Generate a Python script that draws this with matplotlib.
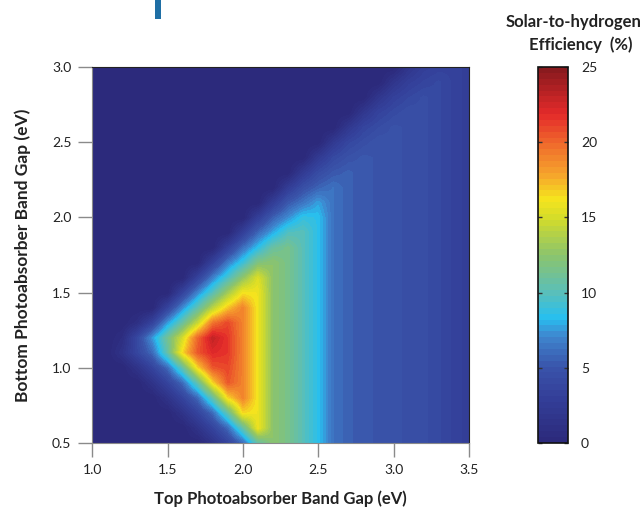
import numpy as np
import matplotlib
matplotlib.use('Agg')
import matplotlib.pyplot as plt
from matplotlib.colors import LinearSegmentedColormap
from matplotlib.patches import Rectangle

# grid of band gaps (eV)
top_gap = np.linspace(1.0, 3.5, 26)
bottom_gap = np.linspace(0.5, 3.0, 26)

# STH efficiency (%), one row per bottom gap (0.5 -> 3.0),
# columns are top gap 1.0 -> 3.5
eff_rows = [
    [0, 0, 0, 0, 0, 0, 0, 0, 1.5, 3.5, 6.0, 10.5, 12.5, 11.5, 10, 8.5, 6.3, 5.6, 5.2, 5.0, 4.8, 4.6, 4.4, 4.0, 3.4, 2.9],
    [0, 0, 0, 0, 0, 0, 0, 1.5, 3.5, 6.0, 10.5, 16, 12.5, 11.5, 10, 8.5, 6.3, 5.6, 5.2, 5.0, 4.8, 4.6, 4.4, 4.0, 3.4, 2.9],
    [0, 0, 0, 0, 0, 0, 1.5, 3.5, 6.0, 10.5, 16.5, 16, 12.5, 11.5, 10, 8.5, 6.3, 5.6, 5.2, 5.0, 4.8, 4.6, 4.4, 4.0, 3.4, 2.9],
    [0, 0, 0, 0, 0, 1.5, 3.5, 6.0, 10.5, 16.5, 19, 16, 12.5, 11.5, 10, 8.5, 6.3, 5.6, 5.2, 5.0, 4.8, 4.6, 4.4, 4.0, 3.4, 2.9],
    [0, 0, 0, 0, 1.5, 3.5, 6.0, 10.5, 16.5, 20.5, 19, 16, 12.5, 11.5, 10, 8.5, 6.3, 5.6, 5.2, 5.0, 4.8, 4.6, 4.4, 4.0, 3.4, 2.9],
    [0, 0, 0, 1.5, 3.5, 6.0, 10.5, 16.5, 20.5, 21, 19, 16, 12.5, 11.5, 10, 8.5, 6.3, 5.6, 5.2, 5.0, 4.8, 4.6, 4.4, 4.0, 3.4, 2.9],
    [0, 0, 1.5, 3.8, 6.0, 10.5, 16.5, 20.5, 22, 21.5, 19, 16, 12.5, 11.5, 10, 8.5, 6.3, 5.6, 5.2, 5.0, 4.8, 4.6, 4.4, 4.0, 3.4, 2.9],
    [0, 0, 0.8, 4.0, 7.5, 11.2, 15, 20, 23, 21.5, 19, 16, 12.5, 11.5, 10, 8.5, 6.3, 5.6, 5.2, 5.0, 4.8, 4.6, 4.4, 4.0, 3.4, 2.9],
    [0, 0, 0, 1.0, 3.5, 7.5, 10.8, 14.5, 19.5, 21, 19, 16, 12.5, 11.5, 10, 8.5, 6.3, 5.6, 5.2, 5.0, 4.8, 4.6, 4.4, 4.0, 3.4, 2.9],
    [0, 0, 0, 0, 0, 3.5, 7.2, 10.4, 14, 17, 19, 16, 12.5, 11.5, 10, 8.5, 6.3, 5.6, 5.2, 5.0, 4.8, 4.6, 4.4, 4.0, 3.4, 2.9],
    [0, 0, 0, 0, 0, 0, 3.5, 7.0, 10, 13.3, 16.2, 16, 12.5, 11.5, 10, 8.5, 6.3, 5.6, 5.2, 5.0, 4.8, 4.6, 4.4, 4.0, 3.4, 2.9],
    [0, 0, 0, 0, 0, 0, 0, 3.4, 6.8, 9.6, 12.6, 15.3, 12.5, 11.5, 10, 8.5, 6.3, 5.6, 5.2, 5.0, 4.8, 4.6, 4.4, 4.0, 3.4, 2.9],
    [0, 0, 0, 0, 0, 0, 0, 0, 3.3, 6.6, 9.0, 11.9, 12.5, 11.5, 10, 8.5, 6.3, 5.6, 5.2, 5.0, 4.8, 4.6, 4.4, 4.0, 3.4, 2.9],
    [0, 0, 0, 0, 0, 0, 0, 0, 0, 3.2, 6.2, 8.5, 10.8, 11.5, 10, 8.5, 6.3, 5.6, 5.2, 5.0, 4.8, 4.6, 4.4, 4.0, 3.4, 2.9],
    [0, 0, 0, 0, 0, 0, 0, 0, 0, 0, 3.1, 5.9, 7.9, 9.8, 10, 8.5, 6.3, 5.6, 5.2, 5.0, 4.8, 4.6, 4.4, 4.0, 3.4, 2.9],
    [0, 0, 0, 0, 0, 0, 0, 0, 0, 0, 0, 3.0, 5.6, 7.2, 8.8, 8.5, 6.3, 5.6, 5.2, 5.0, 4.8, 4.6, 4.4, 4.0, 3.4, 2.9],
    [0, 0, 0, 0, 0, 0, 0, 0, 0, 0, 0, 0, 2.8, 5.2, 6.4, 7.7, 6.3, 5.6, 5.2, 5.0, 4.8, 4.6, 4.4, 4.0, 3.4, 2.9],
    [0, 0, 0, 0, 0, 0, 0, 0, 0, 0, 0, 0, 0, 2.7, 4.6, 5.7, 6.3, 5.6, 5.2, 5.0, 4.8, 4.6, 4.4, 4.0, 3.4, 2.9],
    [0, 0, 0, 0, 0, 0, 0, 0, 0, 0, 0, 0, 0, 0, 2.5, 4.2, 5.2, 5.6, 5.2, 5.0, 4.8, 4.6, 4.4, 4.0, 3.4, 2.9],
    [0, 0, 0, 0, 0, 0, 0, 0, 0, 0, 0, 0, 0, 0, 0, 2.4, 4.0, 4.8, 5.2, 5.0, 4.8, 4.6, 4.4, 4.0, 3.4, 2.9],
    [0, 0, 0, 0, 0, 0, 0, 0, 0, 0, 0, 0, 0, 0, 0, 0, 2.3, 3.8, 4.5, 5.0, 4.8, 4.6, 4.4, 4.0, 3.4, 2.9],
    [0, 0, 0, 0, 0, 0, 0, 0, 0, 0, 0, 0, 0, 0, 0, 0, 0, 2.1, 3.6, 4.3, 4.8, 4.6, 4.4, 4.0, 3.4, 2.9],
    [0, 0, 0, 0, 0, 0, 0, 0, 0, 0, 0, 0, 0, 0, 0, 0, 0, 0, 2.0, 3.4, 4.1, 4.6, 4.4, 4.0, 3.4, 2.9],
    [0, 0, 0, 0, 0, 0, 0, 0, 0, 0, 0, 0, 0, 0, 0, 0, 0, 0, 0, 1.9, 3.2, 3.9, 4.4, 4.0, 3.4, 2.9],
    [0, 0, 0, 0, 0, 0, 0, 0, 0, 0, 0, 0, 0, 0, 0, 0, 0, 0, 0, 0, 1.8, 3.0, 3.6, 4.0, 3.4, 2.9],
    [0, 0, 0, 0, 0, 0, 0, 0, 0, 0, 0, 0, 0, 0, 0, 0, 0, 0, 0, 0, 0, 1.7, 2.9, 3.3, 3.4, 2.9],
]
eff = np.array(eff_rows, dtype=float)

x_ticks = [1.0, 1.5, 2.0, 2.5, 3.0, 3.5]
y_ticks = [0.5, 1.0, 1.5, 2.0, 2.5, 3.0]
cbar_ticks = [0, 5, 10, 15, 20, 25]

# jet-like palette, as in the original
cmap_stops = [0.0, 0.12, 0.2, 0.28, 0.33, 0.4, 0.5, 0.6, 0.65, 0.72, 0.8, 0.88, 1.0]
cmap_colors = ['#2c2a7c', '#34409a', '#3a55ab', '#3f86cf', '#27bff0', '#5bbfb8',
               '#8cc46c', '#d4dc2a', '#f5e41e', '#f6a22c', '#ef6a2c', '#e42a2a',
               '#8a1a1e']
cmap = LinearSegmentedColormap.from_list('sth', list(zip(cmap_stops, cmap_colors)), N=64)

plt.rcParams['font.family'] = ['Lato', 'DejaVu Sans']

fig = plt.figure(figsize=(6.4, 5.12), dpi=100)
ax = fig.add_axes([0.144, 0.135, 0.589, 0.734])

dx = (top_gap[1] - top_gap[0]) / 2
dy = (bottom_gap[1] - bottom_gap[0]) / 2
im = ax.imshow(eff, origin='lower', cmap=cmap, vmin=0, vmax=25,
               extent=[top_gap[0] - dx, top_gap[-1] + dx,
                       bottom_gap[0] - dy, bottom_gap[-1] + dy],
               interpolation='bilinear', interpolation_stage='data',
               aspect='auto')
ax.set_xlim(1.0, 3.5)
ax.set_ylim(0.5, 3.0)
ax.set_xticks(x_ticks)
ax.set_yticks(y_ticks)
ax.set_xticklabels([f'{v:.1f}' for v in x_ticks])
ax.set_yticklabels([f'{v:.1f}' for v in y_ticks])
ax.tick_params(direction='out', length=10, width=1, color='#8a8a8a',
               labelsize=10, labelcolor='#222222', pad=5)
for side in ['left', 'bottom']:
    ax.spines[side].set_color('#8a8a8a')
for side in ['top', 'right']:
    ax.spines[side].set_color('#222222')

fig.text(0.4375, 0.025, 'Top Photoabsorber Band Gap (eV)', ha='center', va='center',
         fontsize=12, fontweight='bold', color='#222222')
fig.text(0.035, 0.502, 'Bottom Photoabsorber Band Gap (eV)', ha='center', va='center',
         rotation=90, fontsize=12.5, fontweight='bold', color='#222222')

cax = fig.add_axes([0.841, 0.135, 0.047, 0.734])
cb = fig.colorbar(im, cax=cax, ticks=cbar_ticks)
cb.outline.set_linewidth(1.2)
cb.outline.set_edgecolor('#111111')
cax.tick_params(direction='in', length=3, width=1, color='#333333',
                left=True, right=True, labelsize=10, labelcolor='#222222', pad=9)

fig.text(0.896, 0.958, 'Solar-to-hydrogen', ha='center', va='center',
         fontsize=12, fontweight='bold', color='#222222')
fig.text(0.908, 0.912, 'Efficiency  (%)', ha='center', va='center',
         fontsize=12, fontweight='bold', color='#222222')

# clipped blue glyph from the page heading above the chart
fig.add_artist(Rectangle((0.242, 0.962), 0.009, 0.04, transform=fig.transFigure,
                         facecolor='#1f6fa5', edgecolor='none'))

fig.savefig('out.png', dpi=100)
